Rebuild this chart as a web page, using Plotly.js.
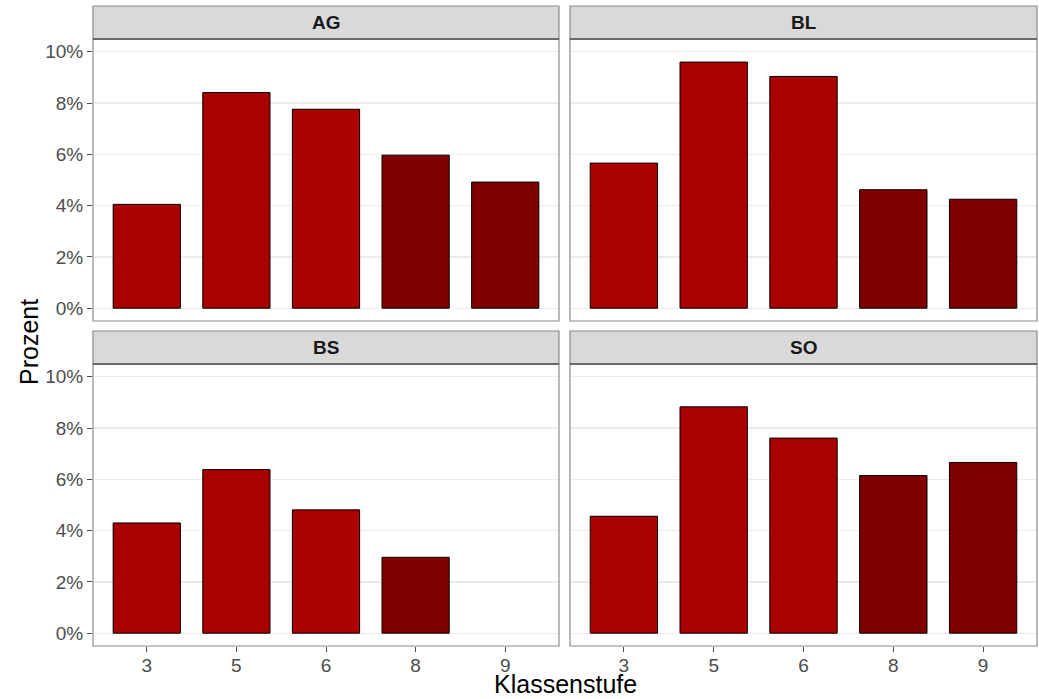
<!DOCTYPE html>
<html>
<head>
<meta charset="utf-8">
<script src="https://cdn.plot.ly/plotly-3.0.1.min.js"></script>
<style>
html, body { margin: 0; padding: 0; background: #ffffff; }
#chart { width: 1039px; height: 699px; }
</style>
</head>
<body>
<div id="chart"></div>
<script>
// ---- data ----
const categories = ['3', '5', '6', '8', '9'];
const stufe = ['Primar', 'Primar', 'Primar', 'Sek', 'Sek'];
const panels = ['AG', 'BL', 'BS', 'SO'];
const valuesAG = [4.05, 8.41, 7.76, 5.97, 4.92];
const valuesBL = [5.66, 9.60, 9.04, 4.62, 4.25];
const valuesBS = [4.30, 6.38, 4.81, 2.96, null];
const valuesSO = [4.56, 8.83, 7.61, 6.15, 6.66];
const yTicks = [0, 2, 4, 6, 8, 10];
const xTitle = 'Klassenstufe';
const yTitle = 'Prozent';

// ---- styles ----
const colorMap = { Primar: '#AA0000', Sek: '#800000' };
const W = 1039, H = 699;
const panelX = [[93, 559], [570, 1037], [93, 559], [570, 1037]];
const panelY = [[39, 321], [39, 321], [364, 646], [364, 646]];
const stripY = [[6, 39], [6, 39], [331, 364], [331, 364]];
const allValues = [valuesAG, valuesBL, valuesBS, valuesSO];
const fontFam = 'Liberation Sans, Arial, Helvetica, sans-serif';

const traces = [];
const layout = {
  width: W, height: H,
  margin: { l: 0, r: 0, t: 0, b: 0 },
  paper_bgcolor: '#ffffff',
  plot_bgcolor: '#ffffff',
  showlegend: false,
  bargap: 0.25,
  font: { family: fontFam },
  shapes: [],
  annotations: []
};

panels.forEach((p, i) => {
  const n = i + 1;
  const xa = n === 1 ? 'x' : 'x' + n;
  const ya = n === 1 ? 'y' : 'y' + n;
  traces.push({
    type: 'bar',
    x: categories,
    y: allValues[i],
    xaxis: xa, yaxis: ya,
    width: 0.75,
    marker: {
      color: stufe.map(s => colorMap[s]),
      line: { color: '#000000', width: 1 }
    },
    hoverinfo: 'x+y'
  });
  const isLeft = (i % 2 === 0);
  const isBottom = (i >= 2);
  const xKey = n === 1 ? 'xaxis' : 'xaxis' + n;
  const yKey = n === 1 ? 'yaxis' : 'yaxis' + n;
  layout[xKey] = {
    domain: [panelX[i][0] / W, panelX[i][1] / W],
    anchor: ya,
    type: 'category',
    categoryorder: 'array',
    categoryarray: categories,
    range: [-0.6, 4.6],
    showgrid: false,
    zeroline: false,
    showline: false,
    ticks: isBottom ? 'outside' : '',
    ticklen: 5,
    tickwidth: 1,
    tickcolor: '#4D4D4D',
    ticklabelstandoff: -3,
    showticklabels: isBottom,
    tickfont: { size: 19, color: '#4D4D4D', family: fontFam },
    fixedrange: true
  };
  layout[yKey] = {
    domain: [1 - panelY[i][1] / H, 1 - panelY[i][0] / H],
    anchor: xa,
    range: [-0.5, 10.5],
    tickvals: yTicks,
    ticktext: yTicks.map(v => v + '%'),
    showgrid: true,
    gridcolor: '#EBEBEB',
    gridwidth: 1.3,
    zeroline: false,
    showline: false,
    ticks: isLeft ? 'outside' : '',
    ticklen: 5,
    tickwidth: 1,
    tickcolor: '#4D4D4D',
    showticklabels: isLeft,
    tickfont: { size: 19, color: '#4D4D4D', family: fontFam },
    fixedrange: true
  };
  // panel border
  layout.shapes.push({
    type: 'rect', xref: 'paper', yref: 'paper', layer: 'above',
    x0: panelX[i][0] / W, x1: panelX[i][1] / W,
    y0: 1 - panelY[i][1] / H, y1: 1 - panelY[i][0] / H,
    line: { color: '#8C8C8C', width: 1.2 }, fillcolor: 'rgba(0,0,0,0)'
  });
  // strip
  layout.shapes.push({
    type: 'rect', xref: 'paper', yref: 'paper', layer: 'above',
    x0: panelX[i][0] / W, x1: panelX[i][1] / W,
    y0: 1 - stripY[i][1] / H, y1: 1 - stripY[i][0] / H,
    line: { color: '#8C8C8C', width: 1.2 }, fillcolor: '#D9D9D9'
  });
  layout.shapes.push({
    type: 'line', xref: 'paper', yref: 'paper', layer: 'above',
    x0: panelX[i][0] / W, x1: panelX[i][1] / W,
    y0: 1 - stripY[i][1] / H, y1: 1 - stripY[i][1] / H,
    line: { color: '#555555', width: 1.6 }
  });
  layout.annotations.push({
    xref: 'paper', yref: 'paper',
    x: (panelX[i][0] + panelX[i][1]) / 2 / W,
    y: 1 - (stripY[i][0] + stripY[i][1]) / 2 / H,
    xanchor: 'center', yanchor: 'middle',
    text: '<b>' + p + '</b>', showarrow: false,
    font: { size: 19, color: '#1A1A1A', family: fontFam }
  });
});

layout.annotations.push({
  xref: 'paper', yref: 'paper',
  x: (93 + 1037) / 2 / W, y: 0,
  xanchor: 'center', yanchor: 'bottom',
  text: xTitle, showarrow: false,
  borderpad: 0,
  font: { size: 25, color: '#000000', family: fontFam }
});
layout.annotations.push({
  xref: 'paper', yref: 'paper',
  x: 29 / W, y: 1 - 342 / H,
  xanchor: 'center', yanchor: 'middle',
  text: yTitle, showarrow: false, textangle: -90,
  font: { size: 25, color: '#000000', family: fontFam }
});

Plotly.newPlot('chart', traces, layout, { staticPlot: true, displayModeBar: false });
</script>
</body>
</html>
